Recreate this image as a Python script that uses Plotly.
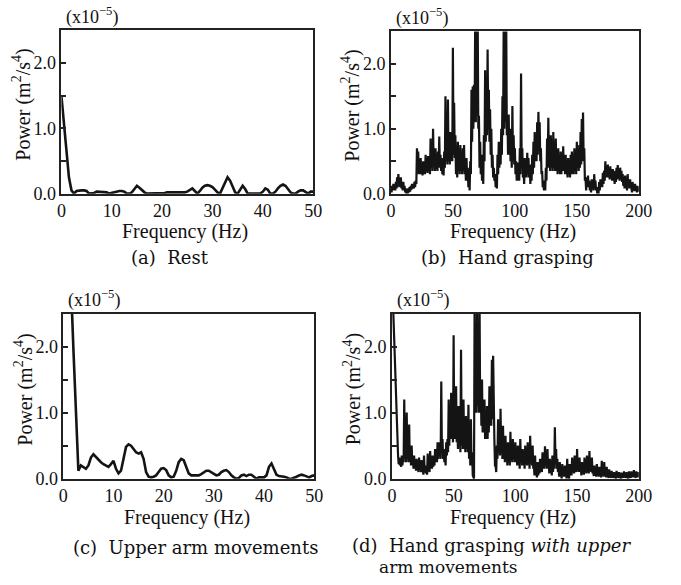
import numpy as np
import plotly.graph_objects as go

# ---------------- data (power, x1e-5 m^2/s^4) ----------------
rest_step = 0.5  # Hz between samples
rest_power = [
    1.50, 1.10, 0.60, 0.25, 0.05, 0.00, 0.04, 0.05, 0.05, 0.05,
    0.04, 0.00, 0.00, 0.01, 0.03, 0.03, 0.02, 0.03, 0.02, 0.00,
    0.01, 0.03, 0.04, 0.04, 0.04, 0.03, 0.00, 0.00, 0.02, 0.08,
    0.12, 0.09, 0.05, 0.02, 0.00, 0.00, 0.00, 0.00, 0.00, 0.00,
    0.01, 0.01, 0.02, 0.02, 0.02, 0.02, 0.02, 0.02, 0.01, 0.02,
    0.03, 0.06, 0.08, 0.04, 0.00, 0.04, 0.09, 0.12, 0.13, 0.12,
    0.10, 0.06, 0.02, 0.00, 0.08, 0.18, 0.25, 0.20, 0.10, 0.02,
    0.00, 0.06, 0.12, 0.07, 0.00, 0.00, 0.00, 0.00, 0.00, 0.00,
    0.03, 0.08, 0.06, 0.00, 0.00, 0.03, 0.08, 0.12, 0.14, 0.12,
    0.07, 0.02, 0.00, 0.00, 0.03, 0.05, 0.05, 0.02, 0.00, 0.03,
    0.03,
]

grasp_step = 0.5
grasp_power = [
    0.10, 0.02, 0.12, 0.05, 0.15, 0.06, 0.12, 0.05, 0.18, 0.08, 0.25, 0.10, 0.30, 0.15, 0.22, 0.10, 0.25, 0.08, 0.15, 0.05,
    0.18, 0.06, 0.12, 0.02, 0.08, 0.00, 0.05, 0.00, 0.08, 0.02, 0.10, 0.03, 0.12, 0.06, 0.15, 0.08, 0.12, 0.08, 0.18, 0.10,
    0.20, 0.15, 0.70, 0.35, 0.65, 0.30, 0.45, 0.30, 0.55, 0.30, 0.45, 0.28, 0.50, 0.30, 0.40, 0.30, 0.60, 0.35, 0.55, 0.32,
    0.58, 0.35, 0.50, 0.30, 0.85, 0.40, 0.70, 0.35, 1.00, 0.45, 0.60, 0.35, 0.70, 0.38, 0.55, 0.35, 0.65, 0.40, 0.88, 0.40,
    0.60, 0.35, 0.55, 0.30, 0.50, 0.28, 0.65, 0.40, 1.50, 0.50, 1.20, 0.45, 1.45, 0.50, 0.80, 0.45, 0.95, 0.50, 0.80, 0.50,
    2.25, 0.60, 1.40, 0.55, 0.90, 0.30, 0.50, 0.25, 0.80, 0.35, 0.65, 0.30, 0.75, 0.35, 0.60, 0.30, 0.70, 0.35, 0.75, 0.30,
    0.50, 0.20, 0.55, 0.20, 0.40, 0.10, 0.30, 0.05, 0.50, 0.30, 1.60, 0.80, 1.65, 1.00, 1.68, 1.10, 2.70, 1.10, 2.70, 1.20,
    2.70, 1.00, 1.20, 0.40, 0.80, 0.30, 0.60, 0.20, 0.50, 0.15, 0.90, 0.50, 1.90, 0.80, 1.70, 0.90, 2.22, 1.00, 1.60, 0.80,
    1.30, 0.60, 1.00, 0.40, 0.60, 0.25, 0.40, 0.20, 0.30, 0.10, 0.20, 0.08, 0.60, 0.30, 0.80, 0.40, 0.70, 0.45, 1.00, 0.60,
    1.50, 0.90, 2.70, 1.00, 2.70, 1.10, 2.70, 0.90, 1.20, 0.60, 1.22, 0.60, 1.00, 0.50, 0.70, 0.40, 1.35, 0.50, 0.90, 0.45,
    0.70, 0.30, 0.50, 0.20, 0.48, 0.20, 0.40, 0.20, 0.70, 0.30, 1.85, 0.40, 0.70, 0.25, 0.35, 0.15, 0.55, 0.25, 0.45, 0.25,
    0.63, 0.30, 0.55, 0.25, 0.40, 0.15, 0.45, 0.20, 0.60, 0.30, 0.80, 0.40, 0.95, 0.50, 0.90, 0.50, 1.10, 0.60, 1.26, 0.70,
    1.10, 0.50, 0.70, 0.30, 0.35, 0.10, 0.15, 0.05, 0.20, 0.05, 0.40, 0.20, 0.85, 0.40, 1.17, 0.40, 0.80, 0.35, 0.90, 0.40,
    0.75, 0.35, 0.95, 0.40, 0.70, 0.35, 0.85, 0.35, 0.60, 0.30, 0.70, 0.35, 0.55, 0.30, 0.65, 0.30, 0.60, 0.35, 0.73, 0.35,
    0.55, 0.30, 0.60, 0.30, 0.45, 0.25, 0.55, 0.30, 0.50, 0.25, 0.60, 0.30, 0.65, 0.30, 0.50, 0.30, 0.70, 0.35, 0.60, 0.30,
    0.80, 0.40, 0.65, 0.35, 0.75, 0.40, 0.95, 0.45, 1.15, 0.50, 1.25, 0.50, 0.70, 0.20, 0.25, 0.05, 0.25, 0.10, 0.28, 0.10,
    0.20, 0.05, 0.15, 0.02, 0.22, 0.08, 0.18, 0.05, 0.30, 0.12, 0.20, 0.05, 0.10, 0.00, 0.05, 0.00, 0.18, 0.05, 0.22, 0.10,
    0.20, 0.10, 0.32, 0.15, 0.35, 0.20, 0.50, 0.25, 0.42, 0.25, 0.45, 0.25, 0.38, 0.22, 0.42, 0.25, 0.35, 0.20, 0.38, 0.20,
    0.30, 0.15, 0.35, 0.18, 0.40, 0.22, 0.44, 0.25, 0.38, 0.20, 0.40, 0.22, 0.35, 0.18, 0.30, 0.12, 0.20, 0.08, 0.28, 0.10,
    0.15, 0.05, 0.30, 0.10, 0.20, 0.08, 0.22, 0.08, 0.10, 0.02, 0.18, 0.05, 0.12, 0.04, 0.15, 0.05, 0.08, 0.02, 0.12, 0.04,
    0.05,
]

arm_step = 0.5
arm_power = [
    3.00, 3.00, 3.00, 3.00, 1.98, 0.94, 0.12, 0.20, 0.18, 0.15,
    0.20, 0.32, 0.37, 0.33, 0.28, 0.25, 0.22, 0.20, 0.18, 0.22,
    0.27, 0.15, 0.08, 0.12, 0.30, 0.48, 0.52, 0.50, 0.45, 0.40,
    0.38, 0.40, 0.30, 0.10, 0.03, 0.02, 0.03, 0.05, 0.10, 0.15,
    0.16, 0.13, 0.05, 0.02, 0.03, 0.12, 0.25, 0.30, 0.28, 0.18,
    0.08, 0.05, 0.05, 0.05, 0.05, 0.07, 0.10, 0.12, 0.12, 0.10,
    0.08, 0.05, 0.06, 0.10, 0.12, 0.13, 0.10, 0.05, 0.02, 0.00,
    0.01, 0.05, 0.06, 0.04, 0.06, 0.06, 0.03, 0.00, 0.02, 0.02,
    0.02, 0.05, 0.18, 0.23, 0.14, 0.06, 0.04, 0.04, 0.03, 0.02,
    0.00, 0.00, 0.01, 0.03, 0.05, 0.06, 0.05, 0.04, 0.02, 0.04,
    0.05,
]

grasp_arm_step = 0.5
grasp_arm_power = [
    2.70, 2.70, 2.60, 2.30, 2.00, 1.60, 1.30, 0.90, 0.60, 0.45, 0.35, 0.22, 0.32, 0.20, 0.28, 0.18, 0.35, 0.20, 0.30, 0.25,
    1.20, 0.30, 0.60, 0.25, 1.00, 0.30, 0.50, 0.25, 0.82, 0.25, 0.45, 0.20, 0.50, 0.22, 0.30, 0.15, 0.35, 0.15, 0.28, 0.12,
    0.30, 0.15, 0.20, 0.10, 0.32, 0.15, 0.25, 0.10, 0.28, 0.10, 0.18, 0.06, 0.35, 0.15, 0.20, 0.08, 0.15, 0.06, 0.38, 0.12,
    0.22, 0.10, 0.42, 0.15, 0.28, 0.15, 0.35, 0.18, 0.30, 0.20, 0.45, 0.25, 0.38, 0.25, 0.55, 0.30, 0.55, 0.35, 0.50, 0.30,
    1.47, 0.40, 0.60, 0.30, 0.45, 0.25, 0.40, 0.20, 0.55, 0.35, 0.60, 0.40, 1.20, 0.50, 1.00, 0.60, 1.30, 0.60, 0.90, 0.55,
    2.17, 0.60, 1.20, 0.60, 1.40, 0.55, 0.80, 0.45, 1.10, 0.50, 0.70, 0.40, 1.95, 0.50, 1.00, 0.45, 1.20, 0.45, 0.70, 0.40,
    0.95, 0.45, 0.80, 0.40, 1.12, 0.30, 0.70, 0.20, 0.90, 0.20, 0.40, 0.05, 0.00, 0.00, 2.70, 1.00, 1.60, 1.00, 2.70, 1.10,
    1.50, 1.00, 2.70, 1.00, 1.40, 0.80, 1.50, 0.70, 1.10, 0.70, 1.20, 0.60, 0.90, 0.60, 1.10, 0.60, 1.00, 0.70, 1.40, 0.80,
    1.10, 0.80, 1.80, 0.90, 1.86, 0.60, 0.60, 0.20, 0.20, 0.10, 0.50, 0.30, 0.90, 0.40, 0.70, 0.35, 1.06, 0.40, 0.60, 0.30,
    0.80, 0.30, 0.50, 0.25, 0.65, 0.30, 0.45, 0.20, 0.55, 0.25, 0.45, 0.20, 0.71, 0.30, 0.45, 0.25, 0.60, 0.30, 0.50, 0.25,
    0.55, 0.25, 0.45, 0.20, 0.50, 0.25, 0.35, 0.15, 0.60, 0.25, 0.45, 0.20, 0.45, 0.25, 0.35, 0.15, 0.50, 0.25, 0.40, 0.20,
    0.55, 0.25, 0.40, 0.15, 0.65, 0.25, 0.40, 0.20, 0.50, 0.15, 0.20, 0.05, 0.35, 0.05, 0.10, 0.02, 0.25, 0.05, 0.22, 0.08,
    0.30, 0.10, 0.25, 0.10, 0.40, 0.15, 0.35, 0.15, 0.49, 0.20, 0.40, 0.15, 0.45, 0.15, 0.25, 0.08, 0.30, 0.10, 0.20, 0.05,
    0.35, 0.10, 0.30, 0.15, 0.78, 0.25, 0.45, 0.15, 0.30, 0.10, 0.15, 0.03, 0.25, 0.05, 0.10, 0.00, 0.22, 0.05, 0.15, 0.03,
    0.20, 0.05, 0.10, 0.00, 0.30, 0.05, 0.05, 0.00, 0.22, 0.05, 0.18, 0.05, 0.32, 0.10, 0.22, 0.08, 0.35, 0.10, 0.25, 0.10,
    0.45, 0.12, 0.30, 0.10, 0.32, 0.10, 0.15, 0.05, 0.25, 0.08, 0.20, 0.06, 0.32, 0.10, 0.25, 0.08, 0.35, 0.10, 0.25, 0.08,
    0.42, 0.12, 0.30, 0.10, 0.32, 0.08, 0.15, 0.04, 0.20, 0.05, 0.10, 0.03, 0.22, 0.05, 0.15, 0.03, 0.18, 0.04, 0.10, 0.02,
    0.27, 0.05, 0.15, 0.03, 0.25, 0.05, 0.12, 0.02, 0.18, 0.04, 0.08, 0.01, 0.14, 0.03, 0.06, 0.01, 0.12, 0.02, 0.06, 0.01,
    0.10, 0.02, 0.05, 0.00, 0.12, 0.03, 0.07, 0.01, 0.10, 0.02, 0.04, 0.00, 0.09, 0.02, 0.05, 0.01, 0.11, 0.03, 0.07, 0.01,
    0.10, 0.02, 0.04, 0.00, 0.11, 0.03, 0.06, 0.01, 0.11, 0.03, 0.07, 0.02, 0.13, 0.03, 0.06, 0.01, 0.11, 0.03, 0.07, 0.02,
    0.10,
]

y_tickvals = [0.0, 1.0, 2.0]
y_ticktext = ["0.0", "1.0", "2.0"]
y_minor_ticks = [0.5, 1.5]
x_ticks_50 = [0, 10, 20, 30, 40, 50]
x_ticks_200 = [0, 50, 100, 150, 200]

captions = ["(a)  Rest", "(b)  Hand grasping", "(c)  Upper arm movements"]

# ---------------- figure ----------------
W, H = 681, 585
SERIF = "Liberation Serif"
CAP = "DejaVu Serif"
INK = "#111"

panels = [
    # (step, values, xmax, xticks, px_left, px_right, py_top, py_bottom, lw)
    (rest_step, rest_power, 50, x_ticks_50, 58, 317, 31, 197, 2.6),
    (grasp_step, grasp_power, 200, x_ticks_200, 397, 652, 32, 197, 2.2),
    (arm_step, arm_power, 50, x_ticks_50, 60, 318, 319, 487, 2.6),
    (grasp_arm_step, grasp_arm_power, 200, x_ticks_200, 398, 652, 319, 487, 2.2),
]

fig = go.Figure()
layout = {}
annotations = []
for i, (step, vals, xmax, xt, l, r, t, b, lw) in enumerate(panels):
    n = i + 1
    sfx = "" if n == 1 else str(n)
    freq = np.arange(len(vals)) * step
    fig.add_trace(go.Scatter(x=freq, y=vals, mode="lines",
                             line=dict(color="#141414", width=lw),
                             xaxis="x" + sfx, yaxis="y" + sfx,
                             showlegend=False, hoverinfo="skip"))
    common = dict(showline=True, linecolor="#222", linewidth=1.5, mirror=True,
                  ticks="inside", ticklen=5, tickwidth=1.5, tickcolor="#222",
                  showgrid=False, zeroline=False,
                  tickfont=dict(family=SERIF, size=18, color=INK))
    layout["xaxis" + sfx] = dict(common, domain=[l / W, r / W], range=[0, xmax],
                                 tickvals=xt, anchor="y" + sfx, ticklen=0)
    layout["yaxis" + sfx] = dict(common, domain=[1 - b / H, 1 - t / H], range=[0, 2.5],
                                 tickvals=y_tickvals, ticktext=y_ticktext,
                                 minor=dict(tickvals=y_minor_ticks, ticks="inside",
                                            ticklen=5, tickwidth=1.5, tickcolor="#222",
                                            showgrid=False),
                                 anchor="x" + sfx)
    cx = (l + r) / 2
    # multiplier label
    annotations.append(dict(text="(x10<sup>−5</sup>)", x=(l + 3) / W, y=1 - (t - 15) / H,
                            xref="paper", yref="paper", xanchor="left", yanchor="middle",
                            showarrow=False, font=dict(family=SERIF, size=18, color=INK)))
    # y title
    annotations.append(dict(text="Power (m<sup>2</sup>/s<sup>4</sup>)", x=(l - 41) / W,
                            y=1 - ((t + b) / 2 - 7) / H, textangle=-90,
                            xref="paper", yref="paper", xanchor="center", yanchor="middle",
                            showarrow=False, font=dict(family=SERIF, size=20, color=INK)))
    # x title
    annotations.append(dict(text="Frequency (Hz)", x=(cx - 2) / W, y=1 - (b + 39) / H,
                            xref="paper", yref="paper", xanchor="center", yanchor="middle",
                            showarrow=False, font=dict(family=SERIF, size=20, color=INK)))

# captions
cap_pos = [(170, 262), (517, 262), (196, 557)]
for text, (x, y) in zip(captions, cap_pos):
    annotations.append(dict(text=text, x=x / W, y=1 - y / H, xref="paper", yref="paper",
                            xanchor="center", yanchor="middle", showarrow=False,
                            font=dict(family=CAP, size=18, color=INK)))
annotations.append(dict(text="(d)  Hand grasping <i>with upper</i>", x=355 / W, y=1 - 555 / H,
                        xref="paper", yref="paper", xanchor="left", yanchor="middle",
                        showarrow=False, font=dict(family=CAP, size=18, color=INK)))
annotations.append(dict(text="arm movements", x=383 / W, y=1 - 577 / H,
                        xref="paper", yref="paper", xanchor="left", yanchor="middle",
                        showarrow=False, font=dict(family=CAP, size=17, color=INK)))

fig.update_layout(width=W, height=H, margin=dict(l=0, r=0, t=0, b=0),
                  paper_bgcolor="white", plot_bgcolor="white",
                  annotations=annotations, **layout)
fig.write_html("out.html", config={"displayModeBar": False},
               post_script="document.body.style.margin='0';document.body.style.padding='0';")
